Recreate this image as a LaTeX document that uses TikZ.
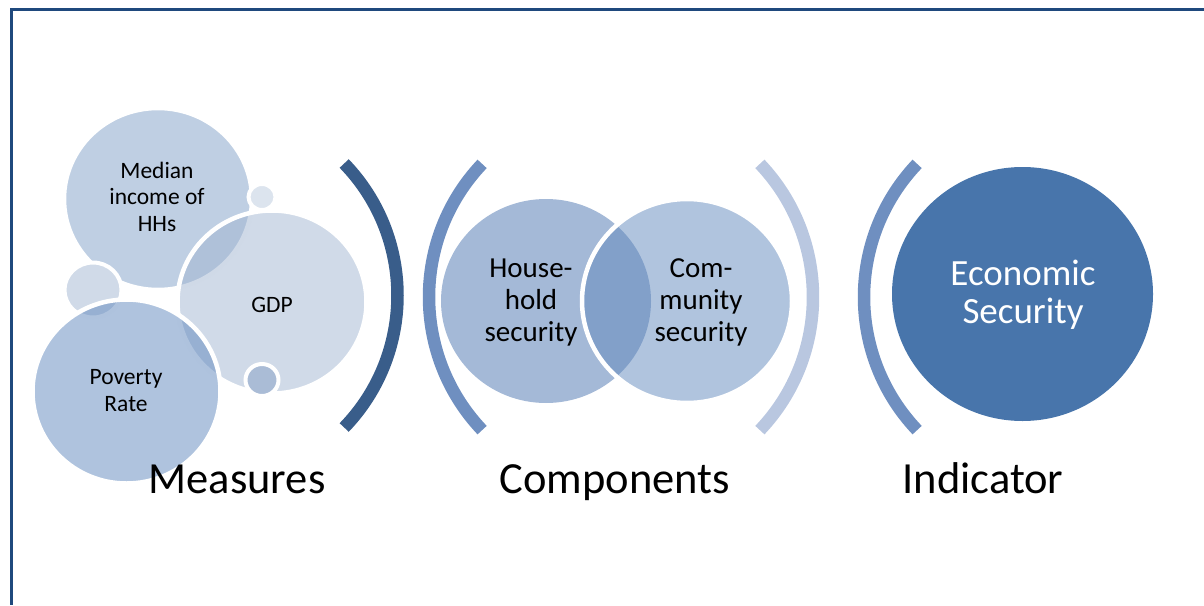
\documentclass[tikz,border=0pt]{standalone}
\usepackage{fontspec}
\setmainfont{Carlito}
\usetikzlibrary{shapes.geometric}
\definecolor{framec}{RGB}{31,73,125}
\definecolor{medc}{RGB}{191,207,227}
\definecolor{gdpc}{RGB}{161,181,209}
\definecolor{povc}{RGB}{95,135,189}
\definecolor{smtop}{RGB}{220,228,238}
\definecolor{smleft}{RGB}{208,218,232}
\definecolor{smbot}{RGB}{170,188,214}
\definecolor{housec}{RGB}{164,185,215}
\definecolor{commc}{RGB}{97,137,189}
\definecolor{econc}{RGB}{72,117,171}
\definecolor{arcdark}{RGB}{57,93,138}
\definecolor{arcmid}{RGB}{111,143,192}
\definecolor{arclight}{RGB}{185,199,224}
\begin{document}
\begin{tikzpicture}[x=1pt,y=-1pt,
  bubble/.style={ellipse, draw=white, line width=4.5pt, inner sep=0pt, outer sep=0pt},
  ring/.style={ellipse, draw=white, line width=4pt, inner sep=0pt, outer sep=0pt},
  lbl/.style={font=\fontsize{23.5}{26.5}\selectfont, align=center, inner sep=0pt, text=black},
  vlbl/.style={font=\fontsize{29}{32}\selectfont, align=center, inner sep=0pt, text=black},
  ttl/.style={font=\fontsize{44.5}{50}\selectfont, inner sep=0pt, text=black},
  brack/.style={line width=12.5pt}
]
\useasboundingbox (0,0) rectangle (1204,605);
% frame
\coordinate (fr1) at (1204,9.5);
\coordinate (fr2) at (11,9.5);
\coordinate (fr3) at (11,605);
\draw[framec, line width=3pt] (fr1) -- (fr2) -- (fr3);
% Measures bubbles
\node[bubble, fill=medc, minimum width=188pt, minimum height=182pt] (med) at (158,199) {};
\node[ring, fill=smtop, minimum width=27pt, minimum height=26pt] (stop) at (262,197) {};
\node[ring, fill=smleft, minimum width=57pt, minimum height=55pt] (sleft) at (93,290) {};
\node[bubble, fill=gdpc, fill opacity=0.5, minimum width=189pt, minimum height=183pt] (gdp) at (272,302) {};
\node[ring, fill=smbot, minimum width=33pt, minimum height=32pt] (sbot) at (262,380) {};
\node[bubble, fill=povc, fill opacity=0.5, minimum width=188pt, minimum height=184pt] (pov) at (126.5,391.5) {};
\node[lbl, anchor=base] (tmed) at (157,231) {Median\\income of\\HHs};
\node[lbl, anchor=base] (tgdp) at (272,312) {GDP};
\node[lbl, anchor=base] (tpov) at (126,411) {Poverty\\Rate};
% brackets
\draw[brack, arcdark] ([shift={(-44:190)}]207.5,295.5) arc[start angle=-44, end angle=44, radius=190];
\draw[brack, arcmid] ([shift={(136.5:193.4)}]622.4,297) arc[start angle=136.5, end angle=223.5, radius=193.4];
\draw[brack, arclight] ([shift={(-43.5:193.4)}]619.6,297) arc[start angle=-43.5, end angle=43.5, radius=193.4];
\draw[brack, arcmid] ([shift={(136.5:193.4)}]1057.4,297) arc[start angle=136.5, end angle=223.5, radius=193.4];
% Components
\node[ellipse, fill=housec, inner sep=0pt, minimum width=210pt, minimum height=204pt] (house) at (546,301) {};
\node[bubble, fill=commc, fill opacity=0.5, minimum width=210pt, minimum height=204pt] (comm) at (687,301) {};
\node[vlbl, anchor=base] (thouse) at (531,341) {House-\\hold\\security};
\node[vlbl, anchor=base] (tcomm) at (701,341) {Com-\\munity\\security};
% Indicator
\node[ellipse, fill=econc, inner sep=0pt, minimum width=261pt, minimum height=254pt] (econ) at (1022.5,294) {};
\node[font=\fontsize{37}{38}\selectfont, align=center, inner sep=0pt, text=white, anchor=base] (tecon) at (1023,323) {Economic\\Security};
% titles
\node[ttl, anchor=base] (tmeas) at (237,493) {Measures};
\node[ttl, anchor=base] (tcomp) at (615,493) {Components};
\node[ttl, anchor=base] (tind) at (983,493) {Indicator};
\end{tikzpicture}
\end{document}
